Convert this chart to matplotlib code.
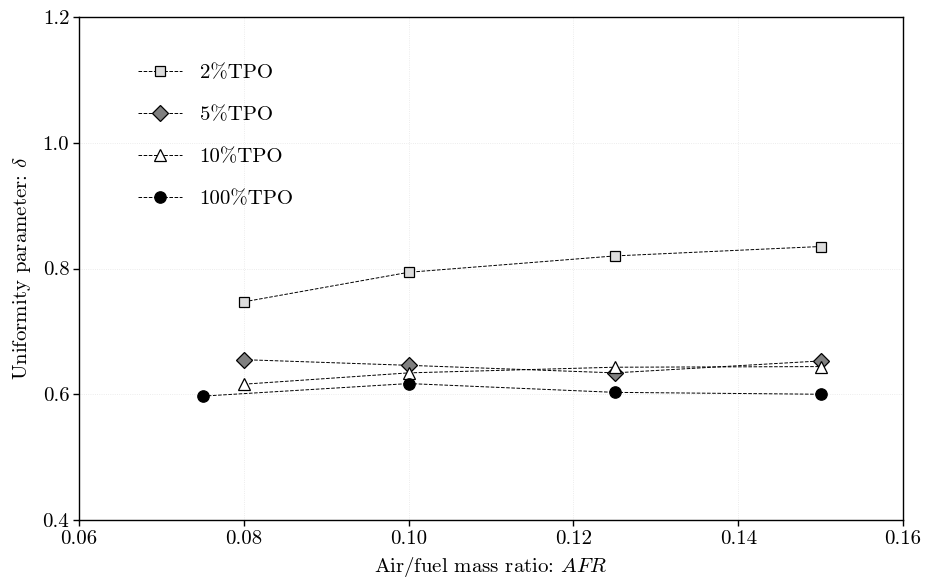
import matplotlib
matplotlib.use("Agg")
import matplotlib.pyplot as plt

plt.rcParams["font.family"] = ["cmr10", "DejaVu Serif"]
plt.rcParams["mathtext.fontset"] = "cm"
plt.rcParams["axes.formatter.use_mathtext"] = True

afr_main = [0.08, 0.10, 0.125, 0.15]
afr_pure = [0.075, 0.10, 0.125, 0.15]

delta_2 = [0.747, 0.794, 0.820, 0.835]
delta_5 = [0.655, 0.646, 0.634, 0.653]
delta_10 = [0.616, 0.634, 0.643, 0.644]
delta_100 = [0.597, 0.617, 0.603, 0.600]

x_ticks = [0.06, 0.08, 0.10, 0.12, 0.14, 0.16]
y_ticks = [0.4, 0.6, 0.8, 1.0, 1.2]

fig = plt.figure(figsize=(9.32, 5.77), dpi=100)
ax = fig.add_axes([0.0848, 0.0988, 0.8842, 0.8717])

common = dict(linestyle="--", linewidth=0.7, color="black",
              markeredgecolor="black", markeredgewidth=0.9)

ax.plot(afr_main, delta_2, marker="s", markerfacecolor="#dcdcdc",
        markersize=7.5, label="2%TPO", **common)
ax.plot(afr_main, delta_5, marker="D", markerfacecolor="#808080",
        markersize=8.0, label="5%TPO", **common)
ax.plot(afr_main, delta_10, marker="^", markerfacecolor="white",
        markersize=8.3, label="10%TPO", **common)
ax.plot(afr_pure, delta_100, marker="o", markerfacecolor="black",
        markersize=8.2, label="100%TPO", **common)

ax.set_xlim(0.06, 0.16)
ax.set_ylim(0.4, 1.2)
ax.set_xticks(x_ticks)
ax.set_yticks(y_ticks)
ax.set_xticklabels([f"{v:.2f}" for v in x_ticks])
ax.set_yticklabels([f"{v:.1f}" for v in y_ticks])
ax.tick_params(labelsize=15, direction="out", length=4, width=1, pad=3)
ax.grid(True, linestyle=":", linewidth=0.6, color="#e6e6e6")
ax.set_axisbelow(True)
for s in ax.spines.values():
    s.set_linewidth(1.0)

ax.set_xlabel("Air/fuel mass ratio: $AFR$", fontsize=15, labelpad=5)
ax.set_ylabel("Uniformity parameter: $\\delta$", fontsize=15, labelpad=7)

leg = ax.legend(loc="upper left", frameon=False, fontsize=15,
                bbox_to_anchor=(0.0615, 0.923), labelspacing=1.11,
                handlelength=2.1, handletextpad=0.85, borderaxespad=0)

fig.savefig("out.png", dpi=100)
